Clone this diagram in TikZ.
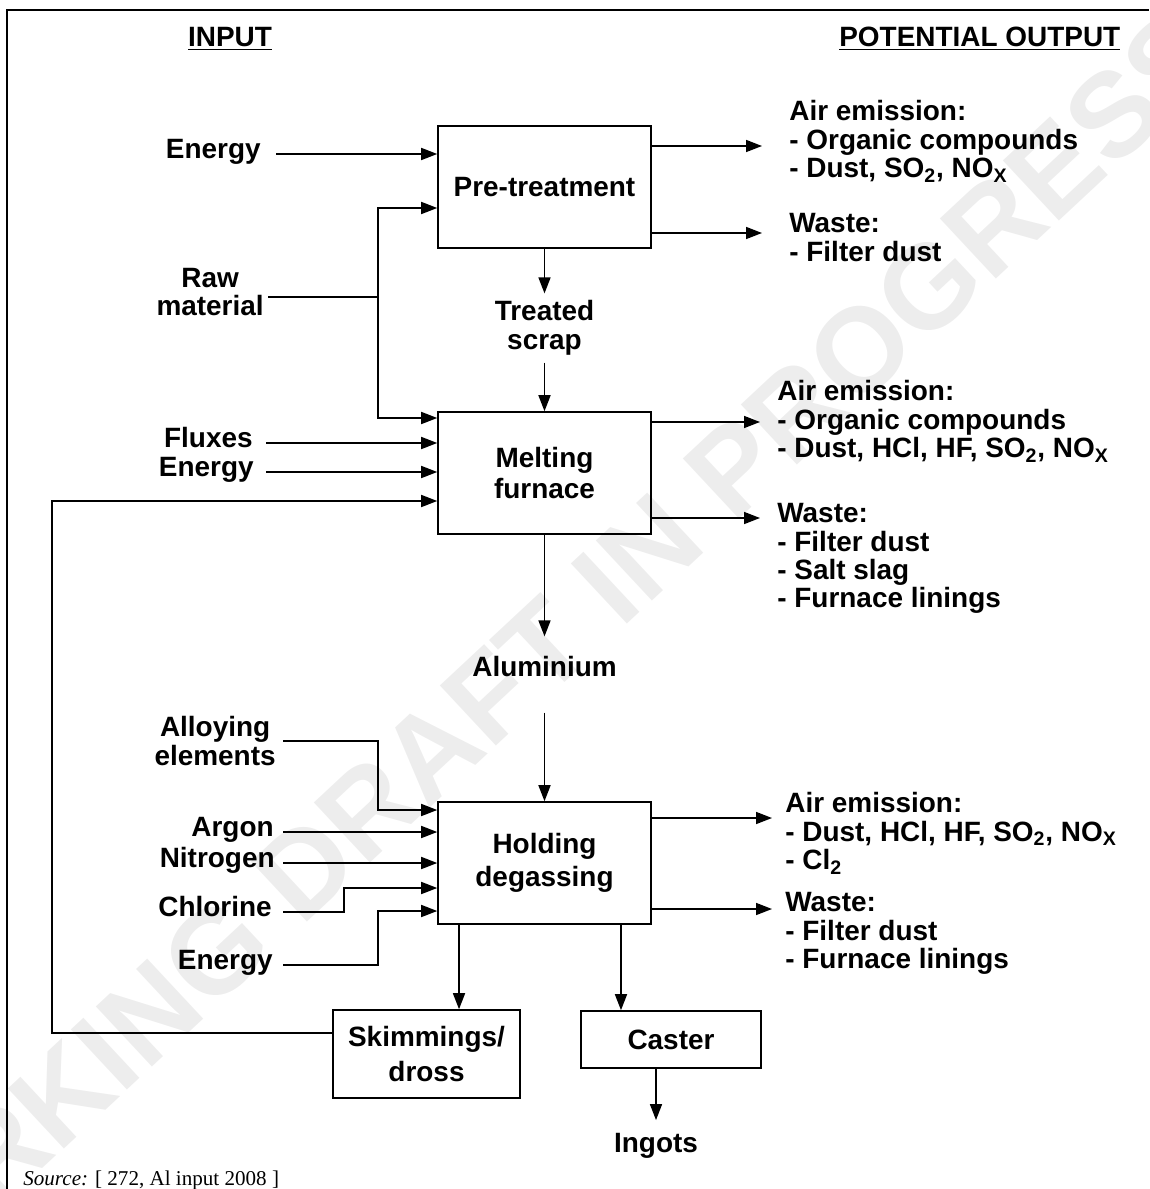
\documentclass[tikz,border=0pt]{standalone}
\usepackage{fontspec}
\setmainfont{Liberation Serif}
\setsansfont{Liberation Sans}
\usetikzlibrary{positioning, arrows.meta, calc}

\begin{document}
\begin{tikzpicture}[x=0.02cm, y=-0.02cm,
	every node/.style={font=\sffamily\bfseries\fontsize{15.9}{16.2}\selectfont, inner sep=0pt},
	box/.style={draw, line width=0.9pt, minimum width=4.26cm, minimum height=2.44cm, align=center},
	lab/.style={anchor=east, text height=0.42cm, text depth=0.25cm},
	labtwo/.style={anchor=east, align=center},
	outtxt/.style={anchor=north west, align=left},
	ln/.style={line width=0.9pt},
	arr/.style={line width=0.9pt, -{Triangle[length=0.32cm, width=0.24cm]}}]
	\useasboundingbox (0,0) rectangle (1149,1189);
	% watermark
	\begin{scope}
		\clip (0,0) rectangle (1149,1189);
		\node[font=\sffamily\bfseries\fontsize{68}{68}\selectfont, text=black!7, rotate=43] (wm) at (509,678) {WORKING DRAFT IN PROGRESS};
	\end{scope}
	% frame
	\draw[line width=1.4pt] (7,1189) -- (7,10) -- (1149,10);
	\node[anchor=base] (hin) at (230,47) {\underline{INPUT}};
	\node[anchor=base west] (hout) at (839,47) {\underline{POTENTIAL OUTPUT}};

	% process boxes
	\node[box] (pre) at (544.5,187) {Pre-treatment};
	\node[box] (melt) at (544.5,473) {Melting\\[1pt]furnace};
	\node[box] (hold) at (544.5,863) {Holding\\[2.5pt]degassing};
	\node[box, minimum width=3.74cm, minimum height=1.76cm] (skim) at (426.5,1054) {Skimmings/\\[3.5pt]dross};
	\node[box, minimum width=3.6cm, minimum height=1.14cm] (caster) at (671,1039.5) {Caster};

	% intermediate products
	\node[inner sep=0.14cm, align=center] (treat) at (544.5,328) {Treated\\scrap};
	\node (alu) at (544.5,667) {Aluminium};
	\node (ingots) at (656,1146) {Ingots};

	% inputs
	\foreach \nm/\txt/\xr/\yy in {enA/Energy/261/154, flux/Fluxes/253/443, enB/Energy/254/472, argon/Argon/274/832, nitro/Nitrogen/275/863, chlor/Chlorine/272/912, enC/Energy/273/965}{
		\node[lab] (\nm) at (\xr,\yy) {\txt};
	}
	\node[labtwo] (raw) at (264,292) {Raw\\material};
	\node[labtwo] (alloy) at (276,741) {Alloying\\elements};

	\draw[arr] ([xshift=0.3cm]enA.east) -- (enA -| pre.west);
	\foreach \nm/\g in {flux/0.26, enB/0.24}{
		\draw[arr] ([xshift=\g cm]\nm.east) -- (\nm -| melt.west);
	}
	\foreach \nm/\g in {argon/0.18, nitro/0.16}{
		\draw[arr] ([xshift=\g cm]\nm.east) -- (\nm -| hold.west);
	}
	\coordinate (rawbus) at (378,297);
	\draw[ln, shorten <=0.08cm] (raw.east |- rawbus) -- (rawbus);
	\draw[arr] (rawbus) |- (pre.west |- 0,208);
	\draw[arr] (rawbus) |- (melt.west |- 0,418);
	\coordinate (alloybend) at (378,810);
	\coordinate (chlbend) at (344,888);
	\coordinate (enbend) at (378,911);
	\draw[arr] ([xshift=0.14cm]alloy.east) -| (alloybend) -- (hold.west |- alloybend);
	\draw[arr] ([xshift=0.22cm]chlor.east) -| (chlbend) -- (hold.west |- chlbend);
	\draw[arr] ([xshift=0.2cm]enC.east) -| (enbend) -- (hold.west |- enbend);

	% main flow
	\draw[arr] (pre) -- (treat);
	\draw[arr] (treat) -- (melt);
	\draw[arr] (melt) -- ([yshift=0.4cm]alu.north);
	\draw[arr] ([yshift=-0.7cm]alu.south) -- (hold);
	\coordinate (tap1) at ([xshift=-1.71cm]hold.south);
	\coordinate (tap2) at ([xshift=1.53cm]hold.south);
	\draw[arr] (tap1) -- (tap1 |- skim.north);
	\draw[arr] (tap2) -- (tap2 |- caster.north);
	\draw[arr] (caster.south -| ingots) -- ([yshift=0.26cm]ingots.north);
	% recycling of skimmings
	\coordinate (loop) at (52,1033);
	\draw[arr] (skim.west |- loop) -- (loop) |- (melt.west |- 0,501);

	% outputs
	\node[outtxt] (preAir) at (789,100) {Air emission:\\- Organic compounds\\- Dust, SO\textsubscript{2}, NO\textsubscript{X}};
	\node[outtxt] (preWaste) at (789,213) {Waste:\\- Filter dust};
	\node[outtxt] (meltAir) at (777,380) {Air emission:\\- Organic compounds\\- Dust, HCl, HF, SO\textsubscript{2}, NO\textsubscript{X}};
	\node[outtxt] (meltWaste) at (777,503) {Waste:\\- Filter dust\\- Salt slag\\- Furnace linings};
	\node[outtxt] (holdAir) at (785,792) {Air emission:\\- Dust, HCl, HF, SO\textsubscript{2}, NO\textsubscript{X}\\- Cl\textsubscript{2}};
	\node[outtxt] (holdWaste) at (785,892) {Waste:\\- Filter dust\\- Furnace linings};
	\foreach \b/\t/\yy/\s in {pre/preAir/146/0.54, pre/preWaste/233/0.54, melt/meltAir/422/0.34, melt/meltWaste/518/0.34, hold/holdAir/818/0.26, hold/holdWaste/909/0.26}{
		\draw[arr, shorten >=\s cm] (\b.east |- 0,\yy) -- (\t.west |- 0,\yy);
	}

	\node[anchor=base west, font=\rmfamily\mdseries\fontsize{12}{14}\selectfont] (src) at (23,1185) {\textit{Source:} [ 272, Al input 2008 ]};
\end{tikzpicture}
\end{document}
